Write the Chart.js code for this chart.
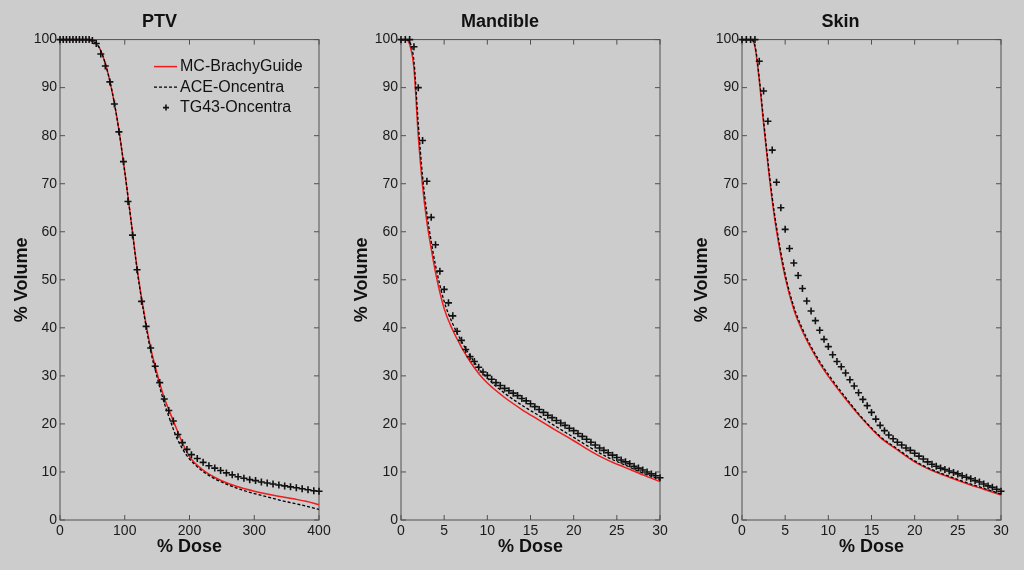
<!DOCTYPE html>
<html>
<head>
<meta charset="utf-8">
<script src="https://cdn.jsdelivr.net/npm/chart.js@4.4.1/dist/chart.umd.min.js"></script>
<style>
  html, body { margin: 0; padding: 0; background: #cccccc; }
  #wrap { position: relative; width: 1024px; height: 570px; overflow: hidden; }
  canvas { position: absolute; top: 0; }
</style>
</head>
<body>
<div id="wrap">
  <canvas id="ptvChart" width="340" height="570" style="left:0px"></canvas>
  <canvas id="mandChart" width="340" height="570" style="left:340px"></canvas>
  <canvas id="skinChart" width="344" height="570" style="left:680px"></canvas>
</div>
<script>
// Séries (% dose -> % volume)
const seriesLabels = ["MC-BrachyGuide", "ACE-Oncentra", "TG43-Oncentra"];
const volumeTicks = [0, 10, 20, 30, 40, 50, 60, 70, 80, 90, 100];

// PTV
const ptvDose = [0, 40, 50, 60, 70, 80, 90, 100, 110, 120, 130, 140, 150, 160, 170, 180, 190, 200, 220, 240, 260, 280, 300, 320, 340, 360, 380, 400];
const ptvMC = [100, 100, 99.7, 98.5, 95, 89.5, 82, 72.5, 62, 51.5, 43, 35.8, 30.5, 25.8, 22.3, 19, 15.8, 13.2, 10.5, 8.8, 7.6, 6.7, 6.0, 5.4, 4.9, 4.4, 3.9, 3.2];
const ptvACE = [100, 100, 99.7, 98.5, 95, 89.5, 82, 72.5, 62, 51.2, 42.6, 35.2, 29.7, 24.8, 20.8, 17.2, 14.6, 12.7, 10.2, 8.5, 7.3, 6.3, 5.5, 4.8, 4.1, 3.5, 2.9, 2.2];
const ptvTgDose = [0, 5, 10, 15, 20, 25, 30, 35, 40, 45, 50, 56, 63, 70, 77, 84, 91, 98, 105, 112, 119, 126, 133, 140, 147, 154, 161, 168, 175, 182, 189, 196, 203, 212, 221, 230, 239, 248, 257, 266, 275, 284, 293, 302, 311, 320, 329, 338, 347, 356, 365, 374, 383, 392, 400];
const ptvTG43 = [100, 100, 100, 100, 100, 100, 100, 100, 100, 100, 99.8, 99.2, 97, 94.5, 91.2, 86.6, 80.8, 74.6, 66.3, 59.3, 52.1, 45.5, 40.3, 35.8, 32.0, 28.6, 25.2, 22.8, 20.6, 17.8, 16.1, 14.7, 13.6, 12.8, 12.0, 11.3, 10.8, 10.3, 9.8, 9.4, 9.0, 8.7, 8.4, 8.2, 7.9, 7.7, 7.5, 7.3, 7.1, 6.9, 6.7, 6.5, 6.3, 6.1, 6.0];
const ptvDoseTicks = [0, 100, 200, 300, 400];

// Mandible et Skin : grilles de dose communes
const organDose = [0, 0.5, 1, 1.5, 2, 2.5, 3, 3.5, 4, 5, 6, 7, 8, 9, 10, 12, 14, 16, 18, 20, 22, 24, 26, 28, 30];
const organTgDose = [0, 0.5, 1, 1.5, 2, 2.5, 3, 3.5, 4, 4.5, 5, 5.5, 6, 6.5, 7, 7.5, 8, 8.5, 9, 9.5, 10, 10.5, 11, 11.5, 12, 12.5, 13, 13.5, 14, 14.5, 15, 15.5, 16, 16.5, 17, 17.5, 18, 18.5, 19, 19.5, 20, 20.5, 21, 21.5, 22, 22.5, 23, 23.5, 24, 24.5, 25, 25.5, 26, 26.5, 27, 27.5, 28, 28.5, 29, 29.5, 30];
const organDoseTicks = [0, 5, 10, 15, 20, 25, 30];

const mandMC = [100, 100, 99, 94, 80, 69.5, 62, 56.5, 51.5, 44, 39.5, 36, 33, 30.5, 28.5, 25.5, 23, 20.8, 18.6, 16.5, 14.3, 12.4, 10.9, 9.4, 8.0];
const mandACE = [100, 100, 99.5, 95.5, 82.5, 71.5, 63.8, 58, 53, 45.5, 40.8, 37.2, 34.2, 31.6, 29.5, 26.4, 23.9, 21.7, 19.4, 17.2, 15.0, 13.0, 11.4, 9.8, 8.4];
const mandTG43 = [100, 100, 100, 98.5, 90, 79, 70.5, 63, 57.3, 51.8, 48, 45.2, 42.5, 39.3, 37.4, 35.5, 34.0, 33.0, 31.8, 30.8, 30.1, 29.3, 28.6, 28.0, 27.4, 26.9, 26.4, 25.9, 25.3, 24.8, 24.2, 23.6, 23.0, 22.4, 21.8, 21.3, 20.7, 20.2, 19.7, 19.1, 18.6, 18.0, 17.4, 16.8, 16.2, 15.6, 15.0, 14.5, 14.0, 13.5, 13.0, 12.5, 12.1, 11.7, 11.2, 10.8, 10.4, 10.0, 9.6, 9.2, 8.8];

const skinMC = [100, 100, 100, 98.5, 91.5, 82.5, 74, 66.5, 60.2, 50.5, 43.8, 39.3, 35.7, 32.6, 29.9, 25.2, 20.9, 17.2, 14.6, 12.1, 10.3, 8.9, 7.6, 6.4, 5.2];
const skinACE = [100, 100, 100, 98.8, 92, 83.2, 74.8, 67.2, 61, 51.2, 44.4, 39.8, 36.1, 33.0, 30.3, 25.5, 21.1, 17.4, 14.8, 12.3, 10.5, 9.1, 7.8, 6.6, 5.4];
const skinTG43 = [100, 100, 100, 100, 95.5, 89.3, 83, 77, 70.3, 65.0, 60.5, 56.5, 53.5, 50.9, 48.2, 45.6, 43.5, 41.5, 39.5, 37.6, 36.1, 34.4, 33.0, 31.9, 30.6, 29.2, 27.9, 26.5, 25.1, 23.8, 22.4, 21.0, 19.7, 18.6, 17.7, 16.9, 16.2, 15.6, 15.0, 14.5, 13.9, 13.3, 12.7, 12.1, 11.6, 11.2, 10.8, 10.5, 10.2, 9.9, 9.6, 9.2, 8.9, 8.6, 8.2, 7.9, 7.5, 7.1, 6.8, 6.4, 6.0];

Chart.defaults.font.family = '"Liberation Sans", Arial, sans-serif';
Chart.defaults.color = '#1a1a1a';

function toPoints(xs, ys) {
    return xs.map((x, i) => ({ x: x, y: ys[i] }));
}

// Cadre + graduations vers l'intérieur (style MATLAB)
const frameTicks = {
    id: 'frameTicks',
    beforeDatasetsDraw(chart) {
        const { ctx, chartArea: a, scales: { x, y } } = chart;
        const len = 5;
        ctx.save();
        ctx.strokeStyle = '#505050';
        ctx.lineWidth = 1;
        ctx.strokeRect(a.left, a.top, a.right - a.left, a.bottom - a.top);
        ctx.beginPath();
        x.ticks.forEach(t => {
            const px = x.getPixelForValue(t.value);
            ctx.moveTo(px, a.bottom); ctx.lineTo(px, a.bottom - len);
            ctx.moveTo(px, a.top); ctx.lineTo(px, a.top + len);
        });
        y.ticks.forEach(t => {
            const py = y.getPixelForValue(t.value);
            ctx.moveTo(a.left, py); ctx.lineTo(a.left + len, py);
            ctx.moveTo(a.right, py); ctx.lineTo(a.right - len, py);
        });
        ctx.stroke();
        ctx.restore();
    }
};

// Légende dans la zone du graphique
const insideLegend = {
    id: 'insideLegend',
    afterDraw(chart, args, opts) {
        if (!opts.display) return;
        const { ctx, chartArea: a } = chart;
        const x0 = a.right - opts.fromRight;
        ctx.save();
        ctx.font = '16px "Liberation Sans", Arial, sans-serif';
        ctx.textBaseline = 'middle';
        ctx.fillStyle = '#111';
        chart.data.datasets.forEach((ds, i) => {
            const yy = a.top + opts.fromTop + i * opts.rowHeight;
            ctx.save();
            ctx.strokeStyle = ds.borderColor;
            if (ds.showLine === false) {
                const cx = x0 + 12, r = 3;
                ctx.lineWidth = ds.pointBorderWidth;
                ctx.beginPath();
                ctx.moveTo(cx - r, yy); ctx.lineTo(cx + r, yy);
                ctx.moveTo(cx, yy - r); ctx.lineTo(cx, yy + r);
                ctx.stroke();
            } else {
                ctx.lineWidth = ds.borderWidth;
                ctx.setLineDash(ds.borderDash || []);
                ctx.beginPath();
                ctx.moveTo(x0, yy); ctx.lineTo(x0 + 23, yy);
                ctx.stroke();
            }
            ctx.restore();
            ctx.fillText(ds.label, x0 + 26, yy);
        });
        ctx.restore();
    }
};

function makePanel(id, title, dose, mc, ace, tgDose, tg, doseTicks, axisWidth, padRight, withLegend) {
    const ctx = document.getElementById(id).getContext('2d');
    return new Chart(ctx, {
        type: 'line',
        data: {
            datasets: [{
                label: seriesLabels[0],
                data: toPoints(dose, mc),
                borderColor: '#ee1c1c',
                borderWidth: 1.5,
                pointRadius: 0,
                cubicInterpolationMode: 'monotone',
                order: 3
            }, {
                label: seriesLabels[1],
                data: toPoints(dose, ace),
                borderColor: '#000000',
                borderWidth: 1.3,
                borderDash: [3, 2],
                pointRadius: 0,
                cubicInterpolationMode: 'monotone',
                order: 2
            }, {
                label: seriesLabels[2],
                data: toPoints(tgDose, tg),
                showLine: false,
                borderColor: '#111111',
                pointStyle: 'cross',
                pointRadius: 3.5,
                pointBorderWidth: 1.6,
                pointBorderColor: '#111111',
                clip: 6,
                order: 1
            }]
        },
        options: {
            responsive: false,
            animation: false,
            events: [],
            layout: { padding: { left: 0, right: padRight, top: 0, bottom: 0 } },
            plugins: {
                legend: { display: false },
                tooltip: { enabled: false },
                title: {
                    display: true,
                    text: title,
                    color: '#111',
                    font: { size: 18, weight: 'bold' },
                    padding: { top: 11, bottom: 7 }
                },
                insideLegend: { display: withLegend, fromRight: 165, fromTop: 27, rowHeight: 20.5 }
            },
            scales: {
                x: {
                    type: 'linear',
                    min: doseTicks[0],
                    max: doseTicks[doseTicks.length - 1],
                    afterBuildTicks: (s) => { s.ticks = doseTicks.map(v => ({ value: v })); },
                    afterFit: (s) => { s.height = 50; },
                    grid: { display: false, drawTicks: false },
                    border: { display: false },
                    ticks: { padding: 3, font: { size: 14 }, color: '#1a1a1a', maxRotation: 0 },
                    title: { display: true, text: '% Dose', color: '#111', font: { size: 18, weight: 'bold' }, padding: { top: 0, bottom: 12 } }
                },
                y: {
                    type: 'linear',
                    min: 0,
                    max: 100,
                    afterBuildTicks: (s) => { s.ticks = volumeTicks.map(v => ({ value: v })); },
                    afterFit: (s) => { s.width = axisWidth; },
                    grid: { display: false, drawTicks: false },
                    border: { display: false },
                    ticks: { padding: 3, font: { size: 14 }, color: '#1a1a1a' },
                    title: { display: true, text: '% Volume', color: '#111', font: { size: 18, weight: 'bold' }, padding: { top: 11, bottom: 0 } }
                }
            }
        },
        plugins: [frameTicks, insideLegend]
    });
}

makePanel('ptvChart', 'PTV', ptvDose, ptvMC, ptvACE, ptvTgDose, ptvTG43, ptvDoseTicks, 60, 21, true);
makePanel('mandChart', 'Mandible', organDose, mandMC, mandACE, organTgDose, mandTG43, organDoseTicks, 61, 20, false);
makePanel('skinChart', 'Skin', organDose, skinMC, skinACE, organTgDose, skinTG43, organDoseTicks, 62, 23, false);
</script>
</body>
</html>
